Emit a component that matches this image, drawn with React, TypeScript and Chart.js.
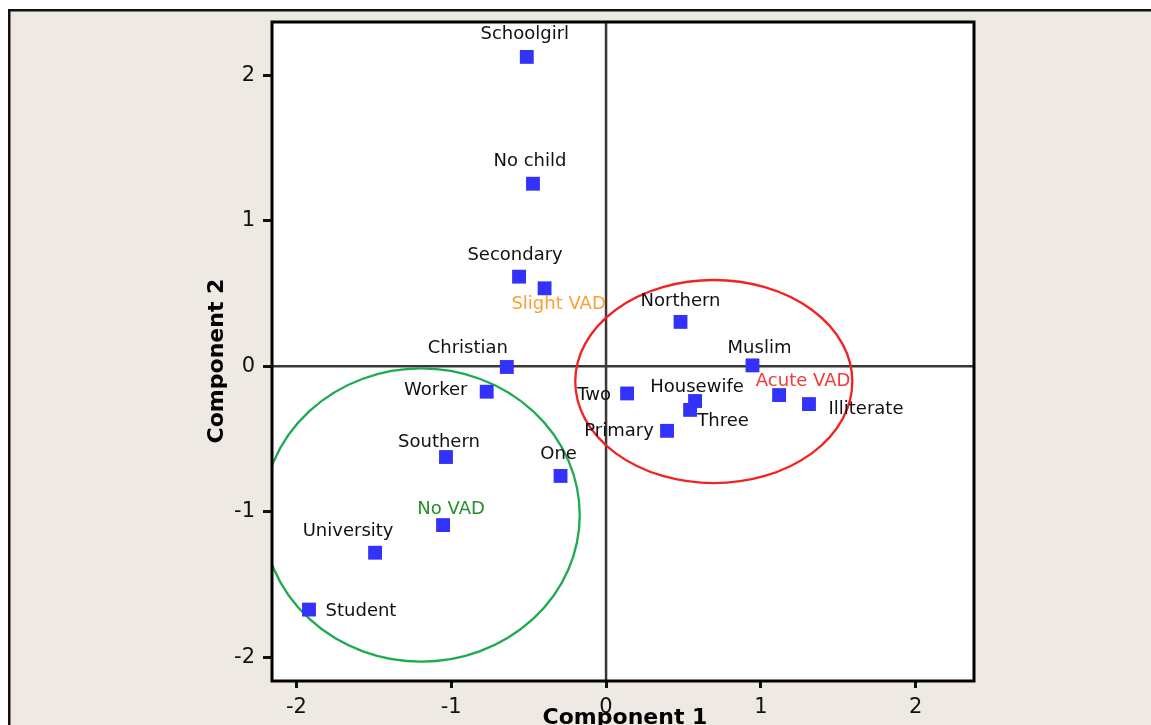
import React, { useEffect, useRef } from "react";
import { Chart, registerables } from "chart.js";

Chart.register(...registerables);

// ---- data ----
const pointLabels = [
  "Schoolgirl", "No child", "Secondary", "Slight VAD", "Christian", "Worker",
  "Southern", "One", "No VAD", "University", "Student", "Northern", "Muslim",
  "Two", "Housewife", "Three", "Primary", "Acute VAD", "Illiterate",
];
const component1 = [
  -0.512, -0.472, -0.562, -0.397, -0.641, -0.771,
  -1.034, -0.294, -1.053, -1.492, -1.919, 0.481, 0.946,
  0.136, 0.575, 0.543, 0.394, 1.118, 1.311,
];
const component2 = [
  2.127, 1.255, 0.616, 0.536, -0.005, -0.175,
  -0.624, -0.754, -1.092, -1.282, -1.673, 0.305, 0.006,
  -0.187, -0.239, -0.300, -0.444, -0.198, -0.260,
];
const xTicks = [-2, -1, 0, 1, 2];
const yTicks = [-2, -1, 0, 1, 2];
const xRange = [-2.158, 2.377];
const yRange = [-2.164, 2.367];

// cluster ellipses (data units)
const clusterNames = ["No VAD", "Acute VAD"];
const clusterCx = [-1.194, 0.696];
const clusterCy = [-1.023, -0.105];
const clusterRx = [1.024, 0.895];
const clusterRy = [1.008, 0.698];

// ---- styles ----
const clusterColors = ["#1DAA50", "#F22222"];
const labelColors: Record<string, string> = {
  "Slight VAD": "#F7A136",
  "No VAD": "#23912A",
  "Acute VAD": "#F23A3A",
};
// text offsets (px) relative to each marker
const labelOffsets: [number, number][] = [
  [-2, -23], [-3, -22], [-4, -21], [14, 16], [-39, -19], [-51, -1],
  [-7, -15], [-2, -22], [8, -16], [-27, -21], [52, 2], [0, -21], [7, -17],
  [-33, 2], [2, -14], [33, 11], [-48, 0], [24, -14], [57, 5],
];
const FONT = '"DejaVu Sans", Verdana, sans-serif';
const BEIGE = "#EEEAE3";
const MARKER = "#3232FA";

const decorPlugin = {
  id: "decor",
  beforeDraw(chart: any) {
    const { ctx, width, height, chartArea: a } = chart;
    ctx.save();
    ctx.fillStyle = "#ffffff";
    ctx.fillRect(0, 0, width, height);
    ctx.fillStyle = BEIGE;
    ctx.fillRect(8, 9, width - 8, height - 9);
    ctx.fillStyle = "#111";
    ctx.fillRect(8, 9, width - 8, 2.5);
    ctx.fillRect(8, 9, 2.5, height - 9);
    ctx.fillStyle = "#ffffff";
    ctx.fillRect(a.left, a.top, a.right - a.left, a.bottom - a.top);
    ctx.restore();
  },
  beforeDatasetsDraw(chart: any) {
    const { ctx, chartArea: a } = chart;
    const xs = chart.scales.x;
    const ys = chart.scales.y;
    ctx.save();
    ctx.beginPath();
    ctx.rect(a.left, a.top, a.right - a.left, a.bottom - a.top);
    ctx.clip();
    // reference lines
    ctx.strokeStyle = "#383838";
    ctx.lineWidth = 2.5;
    const x0 = xs.getPixelForValue(0);
    const y0 = ys.getPixelForValue(0);
    ctx.beginPath();
    ctx.moveTo(x0, a.top);
    ctx.lineTo(x0, a.bottom);
    ctx.moveTo(a.left, y0);
    ctx.lineTo(a.right, y0);
    ctx.stroke();
    // ellipses
    ctx.lineWidth = 2.3;
    clusterNames.forEach((_, i) => {
      const cx = xs.getPixelForValue(clusterCx[i]);
      const cy = ys.getPixelForValue(clusterCy[i]);
      const rx = Math.abs(xs.getPixelForValue(clusterCx[i] + clusterRx[i]) - cx);
      const ry = Math.abs(ys.getPixelForValue(clusterCy[i] + clusterRy[i]) - cy);
      ctx.strokeStyle = clusterColors[i];
      ctx.beginPath();
      ctx.ellipse(cx, cy, rx, ry, 0, 0, Math.PI * 2);
      ctx.stroke();
    });
    ctx.restore();
  },
  afterDatasetsDraw(chart: any) {
    const { ctx } = chart;
    const meta = chart.getDatasetMeta(0);
    ctx.save();
    ctx.font = `18px ${FONT}`;
    ctx.textAlign = "center";
    ctx.textBaseline = "middle";
    meta.data.forEach((el: any, i: number) => {
      const name = pointLabels[i];
      ctx.fillStyle = labelColors[name] || "#111";
      const [dx, dy] = labelOffsets[i];
      ctx.fillText(name, el.x + dx, el.y + dy);
    });
    ctx.restore();
  },
  afterDraw(chart: any) {
    const { ctx, chartArea: a } = chart;
    ctx.save();
    ctx.strokeStyle = "#000";
    ctx.lineWidth = 3;
    ctx.strokeRect(a.left, a.top, a.right - a.left, a.bottom - a.top);
    ctx.fillStyle = "#000";
    ctx.font = `bold 22px ${FONT}`;
    ctx.textAlign = "center";
    ctx.textBaseline = "middle";
    ctx.fillText("Component 1", (a.left + a.right) / 2 + 2, 718);
    ctx.translate(217, 361);
    ctx.rotate(-Math.PI / 2);
    ctx.fillText("Component 2", 0, 0);
    ctx.restore();
  },
};

export default function App() {
  const canvasRef = useRef<HTMLCanvasElement | null>(null);

  useEffect(() => {
    if (!canvasRef.current) return;
    const chart = new Chart(canvasRef.current, {
      type: "scatter",
      data: {
        datasets: [
          {
            data: component1.map((x, i) => ({ x, y: component2[i] })),
            pointStyle: "rect",
            pointRadius: 9.8,
            pointHoverRadius: 9.8,
            backgroundColor: MARKER,
            borderColor: MARKER,
            borderWidth: 0,
          },
        ],
      },
      options: {
        responsive: false,
        animation: false,
        events: [],
        layout: { padding: { left: 0, top: 22, right: 177, bottom: 0 } },
        plugins: {
          legend: { display: false },
          tooltip: { enabled: false },
          title: { display: false },
        },
        scales: {
          x: {
            type: "linear",
            min: xRange[0],
            max: xRange[1],
            afterBuildTicks: (s: any) => {
              s.ticks = xTicks.map((v) => ({ value: v }));
            },
            afterFit: (s: any) => {
              s.height = 44;
            },
            grid: {
              drawOnChartArea: false,
              drawTicks: true,
              tickLength: 7,
              tickWidth: 3,
              tickColor: "#111",
              color: "#111",
            },
            border: { display: false },
            ticks: {
              color: "#111",
              font: { family: FONT, size: 21 },
              padding: 7,
              callback: (v: any) => String(v),
            },
          },
          y: {
            type: "linear",
            min: yRange[0],
            max: yRange[1],
            afterBuildTicks: (s: any) => {
              s.ticks = yTicks.map((v) => ({ value: v }));
            },
            afterFit: (s: any) => {
              s.width = 272;
            },
            grid: {
              drawOnChartArea: false,
              drawTicks: true,
              tickLength: 9,
              tickWidth: 3,
              tickColor: "#111",
              color: "#111",
            },
            border: { display: false },
            ticks: {
              color: "#111",
              font: { family: FONT, size: 21 },
              padding: 8,
              callback: (v: any) => String(v),
            },
          },
        },
      },
      plugins: [decorPlugin],
    } as any);
    return () => chart.destroy();
  }, []);

  return (
    <div style={{ position: "absolute", left: 0, top: 0, width: 1151, height: 725, overflow: "hidden" }}>
      <canvas ref={canvasRef} width={1151} height={725} style={{ display: "block" }} />
    </div>
  );
}
